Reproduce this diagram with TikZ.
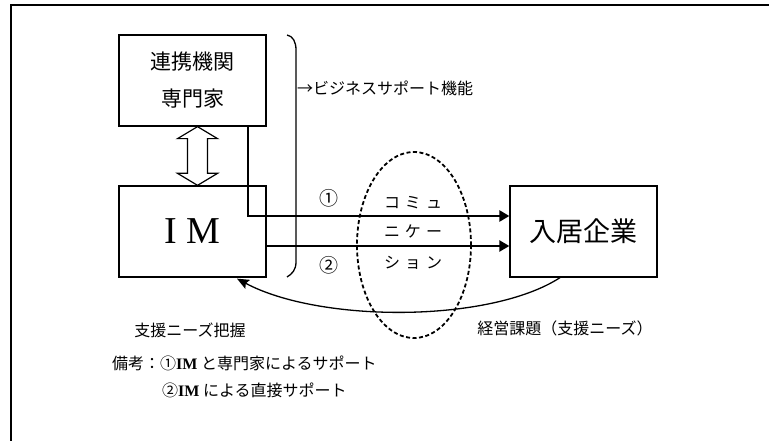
\documentclass[tikz,border=0pt]{standalone}
\usepackage{fontspec}
\setmainfont{Liberation Serif}
\newfontfamily\cjk{Noto Sans CJK JP}
\usetikzlibrary{arrows.meta,calc}
\begin{document}
\begin{tikzpicture}[x=1pt,y=-1pt,
  box/.style={draw, line width=1.3pt, minimum width=147pt, minimum height=91pt, inner sep=0pt},
  small/.style={font=\cjk\fontsize{16}{18}\selectfont, inner sep=0pt},
  num/.style={font=\cjk\fontsize{19}{20}\selectfont, inner sep=0pt},
  arrA/.style={line width=2.8pt, -{Triangle[length=10pt,width=11pt]}},
  arrB/.style={line width=2.3pt, -{Triangle[length=10pt,width=11pt]}},
  feedback/.style={line width=1.3pt, -{Stealth[length=12pt,width=10pt,inset=2pt]}},
  commring/.style={line width=1.8pt, dash pattern=on 4pt off 2.5pt},
  bracket/.style={line width=1.3pt},
  frame/.style={line width=2pt},
  hollow/.style={line width=1.2pt, fill=white, line join=miter}
]
\useasboundingbox (0,0) rectangle (769,441);
% outer frame (top and left only)
\draw[frame] (769,5) -- (11,5) -- (11,441);

% boxes
\node[box, align=center, font=\cjk\fontsize{21}{37}\selectfont] (ren) at (192.5,80.5) {連携機関\\専門家};
\node[box, font=\fontsize{38}{40}\selectfont] (im) at (192.5,231.5) {I M};
\node[box, font=\cjk\fontsize{27}{30}\selectfont] (nyu) at (583.5,231.5) {入居企業};

% hollow double arrow between ren and im
\coordinate (dt) at ([xshift=5pt]ren.south);
\coordinate (db) at ([xshift=5pt]im.north);
\draw[hollow] (dt) -- ($(dt)+(20,12)$) -- ($(dt)+(10,12)$) -- ($(db)+(10,-12)$) -- ($(db)+(20,-12)$)
  -- (db) -- ($(db)+(-20,-12)$) -- ($(db)+(-10,-12)$) -- ($(dt)+(-10,12)$) -- ($(dt)+(-20,12)$) -- cycle;

% bracket
\draw[bracket] (287,35) .. controls (293,36) and (296,42) .. (296,50) -- (296,262)
  .. controls (296,270) and (292,274) .. (287,277);
\node[small, anchor=west] (biz) at (297,88) {→ビジネスサポート機能};

% dashed ellipse
\draw[commring] (414,245) ellipse [x radius=57, y radius=93];

% arrows
\draw[arrA] ([xshift=55.5pt]ren.south) |- ([yshift=15.5pt]nyu.west);
\draw[arrB] ([yshift=-14.5pt]im.east) -- ([yshift=-14.5pt]nyu.west);

\node[num] (n1) at (329,198) {①};
\node[num] (n2) at (329,265) {②};

\node[small] (c1) at (413,203) {コ\hspace{5pt}ミ\hspace{5pt}ュ};
\node[small] (c2) at (413,231) {ニ\hspace{5pt}ケ\hspace{5pt}ー};
\node[small] (c3) at (413,263) {シ\hspace{5pt}ョ\hspace{5pt}ン};

% feedback curve
\draw[feedback] ([xshift=-23.5pt]nyu.south) .. controls (490,323) and (320,323) .. ([xshift=44.5pt,yshift=-1pt]im.south);

\node[small] (need) at (190,330) {支援ニーズ把握};
\node[small] (kadai) at (565,328) {経営課題（支援ニーズ）};

\node[small, anchor=west] (note1) at (112,363) {備考：①{\fontspec{Liberation Serif}\bfseries IM} と専門家によるサポート};
\node[small, anchor=west] (note2) at (162,390) {②{\fontspec{Liberation Serif}\bfseries IM} による直接サポート};
\end{tikzpicture}
\end{document}
